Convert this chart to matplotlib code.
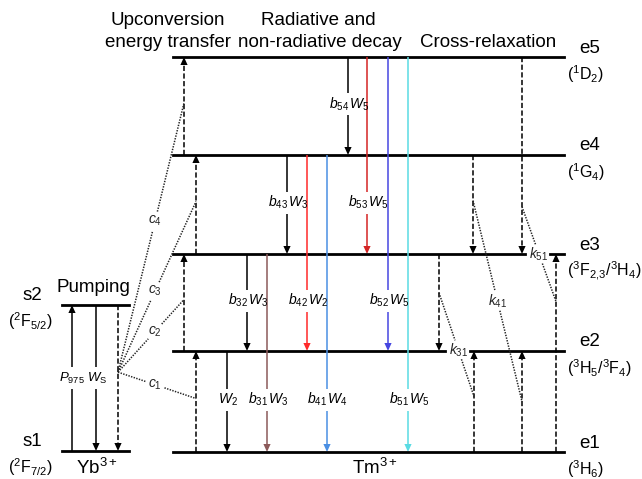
import matplotlib
matplotlib.use('Agg')
import matplotlib.pyplot as plt
import numpy as np

plt.rcParams['font.family'] = 'Liberation Sans'
plt.rcParams['mathtext.fontset'] = 'custom'
plt.rcParams['mathtext.rm'] = 'Liberation Sans'
plt.rcParams['mathtext.it'] = 'Liberation Sans:italic'
plt.rcParams['mathtext.bf'] = 'Liberation Sans:bold'

# Tm3+ levels (height in the drawing, px from top)
tm_names = ['e1', 'e2', 'e3', 'e4', 'e5']
tm_terms = [r'($^3$H$_6$)', r'($^3$H$_5$/$^3$F$_4$)', r'($^3$F$_{2,\!3}$/$^3$H$_4$)',
            r'($^1$G$_4$)', r'($^1$D$_2$)']
tm_y = [452, 351, 254, 155, 57]

# Yb3+ levels
yb_names = ['s1', 's2']
yb_terms = [r'($^2$F$_{7/2}$)', r'($^2$F$_{5/2}$)']
yb_y = [451, 305]

# radiative / non-radiative decays
decay_from = [2, 3, 3, 4, 4, 4, 5, 5, 5, 5]
decay_to = [1, 2, 1, 3, 2, 1, 4, 3, 2, 1]
decay_labels = [r'$W_2$', r'$b_{32}\,W_3$', r'$b_{31}\,W_3$', r'$b_{43}\,W_3$',
                r'$b_{42}\,W_2$', r'$b_{41}\,W_4$', r'$b_{54}\,W_5$', r'$b_{53}\,W_5$',
                r'$b_{52}\,W_5$', r'$b_{51}\,W_5$']
decay_colors = ['black', 'black', '#8c5a5a', 'black', '#ff2a2a', '#4a8fe3',
                'black', '#d42525', '#4646e0', '#5adbe3']
decay_x = [227, 247, 267, 287, 307, 327, 348, 367, 388, 408]

# upconversion energy transfer (Yb -> Tm)
uc_from = [1, 2, 3, 4]
uc_labels = [r'$c_1$', r'$c_2$', r'$c_3$', r'$c_4$']
uc_x = [196, 184, 196, 184]

# cross-relaxation
cr_from = [5, 4, 3, 1, 1, 1]
cr_to = [3, 3, 2, 2, 2, 3]
cr_x = [522, 473, 439, 474, 522, 556]
k_labels = [r'$k_{51}$', r'$k_{41}$', r'$k_{31}$']
k_pairs = [(0, 5), (1, 4), (2, 3)]
k_pos = [(0.76, 0.76), (0.46, 0.5), (0.4, 0.55)]
k_label_t = [0.5, 0.5, 0.55]

LW = 1.1
HL, HW = 8, 3.6
DASH = (0, (3.4, 1.6))
DOT = (0, (0.9, 0.9))

fig = plt.figure(figsize=(6.42, 4.79), dpi=100)
ax = fig.add_axes([0, 0, 1, 1])
ax.set_xlim(0, 642)
ax.set_ylim(479, 0)
ax.axis('off')


def varrow(x, y0, y1, color='black', ls='-', gap=None):
    d = 1 if y1 > y0 else -1
    yb = y1 - d * HL
    segs = [(y0, yb)] if gap is None else [(y0, gap - d * 11), (gap + d * 11, yb)]
    for a, b in segs:
        ax.plot([x, x], [a, b], color=color, lw=LW, ls=ls, solid_capstyle='butt')
    ax.fill([x - HW, x + HW, x], [yb, yb, y1], color=color, lw=0)


def dotted(p0, p1, label, t, g=10):
    p0, p1 = np.array(p0, float), np.array(p1, float)
    v = p1 - p0
    u = v / np.hypot(*v)
    pc = p0 + t * v
    a, b = pc - u * g, pc + u * g
    kw = dict(color='#222222', lw=1.1, ls=DOT)
    ax.plot([p0[0], a[0]], [p0[1], a[1]], **kw)
    ax.plot([b[0], p1[0]], [b[1], p1[1]], **kw)
    ax.text(pc[0], pc[1], label, ha='center', va='center', fontsize=10, color='#222222')


# levels
tm_breaks = {2: (445, 470), 3: (525, 550)}
for i, y in enumerate(tm_y, start=1):
    if i in tm_breaks:
        b0, b1 = tm_breaks[i]
        ax.plot([173, b0], [y, y], color='black', lw=2)
        ax.plot([b1, 564], [y, y], color='black', lw=2)
    else:
        ax.plot([173, 564], [y, y], color='black', lw=2)
    ax.text(579, y - 9, tm_names[i - 1], ha='left', va='center', fontsize=13.5)
    ax.text(567, y + 17, tm_terms[i - 1], ha='left', va='center', fontsize=11.5)

for y, n, t in zip(yb_y, yb_names, yb_terms):
    ax.plot([62, 129], [y, y], color='black', lw=2)
    ax.text(32, y - 10, n, ha='center', va='center', fontsize=13.5)
    ax.text(30, y + 16, t, ha='center', va='center', fontsize=11.5)

# pumping
ymid = (yb_y[0] + yb_y[1]) / 2
varrow(72, yb_y[0], yb_y[1], gap=ymid)
varrow(96, yb_y[1], yb_y[0], gap=ymid)
varrow(118, yb_y[1], yb_y[0], ls=DASH)
ax.text(72, ymid, r'$P_{975}$', ha='center', va='center', fontsize=9.5)
ax.text(97, ymid, r'$W_\mathrm{S}$', ha='center', va='center', fontsize=9.5)

# decays
for f, t, lab, c, x in zip(decay_from, decay_to, decay_labels, decay_colors, decay_x):
    ly = (tm_y[t - 1] + tm_y[t]) / 2 - 2
    varrow(x, tm_y[f - 1], tm_y[t - 1], color=c, gap=ly)
    ax.text(x + 1, ly, lab, ha='center', va='center', fontsize=10)

# upconversion
origin = (118, yb_y[0] - 0.54 * (yb_y[0] - yb_y[1]))
for f, lab, x in zip(uc_from, uc_labels, uc_x):
    y0, y1 = tm_y[f - 1], tm_y[f]
    varrow(x, y0, y1, ls=DASH)
    end = (x, (y0 + y1) / 2 - 3)
    t = (155 - origin[0]) / (end[0] - origin[0])
    dotted(origin, end, lab, t)

# cross-relaxation
for f, t, x in zip(cr_from, cr_to, cr_x):
    varrow(x, tm_y[f - 1], tm_y[t - 1], ls=DASH)
for (i, j), (ti, tj), lab, lt in zip(k_pairs, k_pos, k_labels, k_label_t):
    yi0, yi1 = tm_y[cr_from[i] - 1], tm_y[cr_to[i] - 1]
    yj0, yj1 = tm_y[cr_from[j] - 1], tm_y[cr_to[j] - 1]
    p0 = (cr_x[i], yi0 + ti * (yi1 - yi0))
    p1 = (cr_x[j], yj0 + tj * (yj1 - yj0))
    dotted(p0, p1, lab, lt)

# headers and ion names
ax.text(168, 20, 'Upconversion', ha='center', va='center', fontsize=13.5)
ax.text(168, 42, 'energy transfer', ha='center', va='center', fontsize=13.5)
ax.text(318, 20, 'Radiative and', ha='center', va='center', fontsize=13.5)
ax.text(320, 42, 'non-radiative decay', ha='center', va='center', fontsize=13.5)
ax.text(488, 42, 'Cross-relaxation', ha='center', va='center', fontsize=13.5)
ax.text(93, 288, 'Pumping', ha='center', va='center', fontsize=13.5)
ax.text(97, 468, r'Yb$^{3+}$', ha='center', va='center', fontsize=13.5)
ax.text(375, 468, r'Tm$^{3+}$', ha='center', va='center', fontsize=13.5)

fig.savefig('out.png', dpi=100)
